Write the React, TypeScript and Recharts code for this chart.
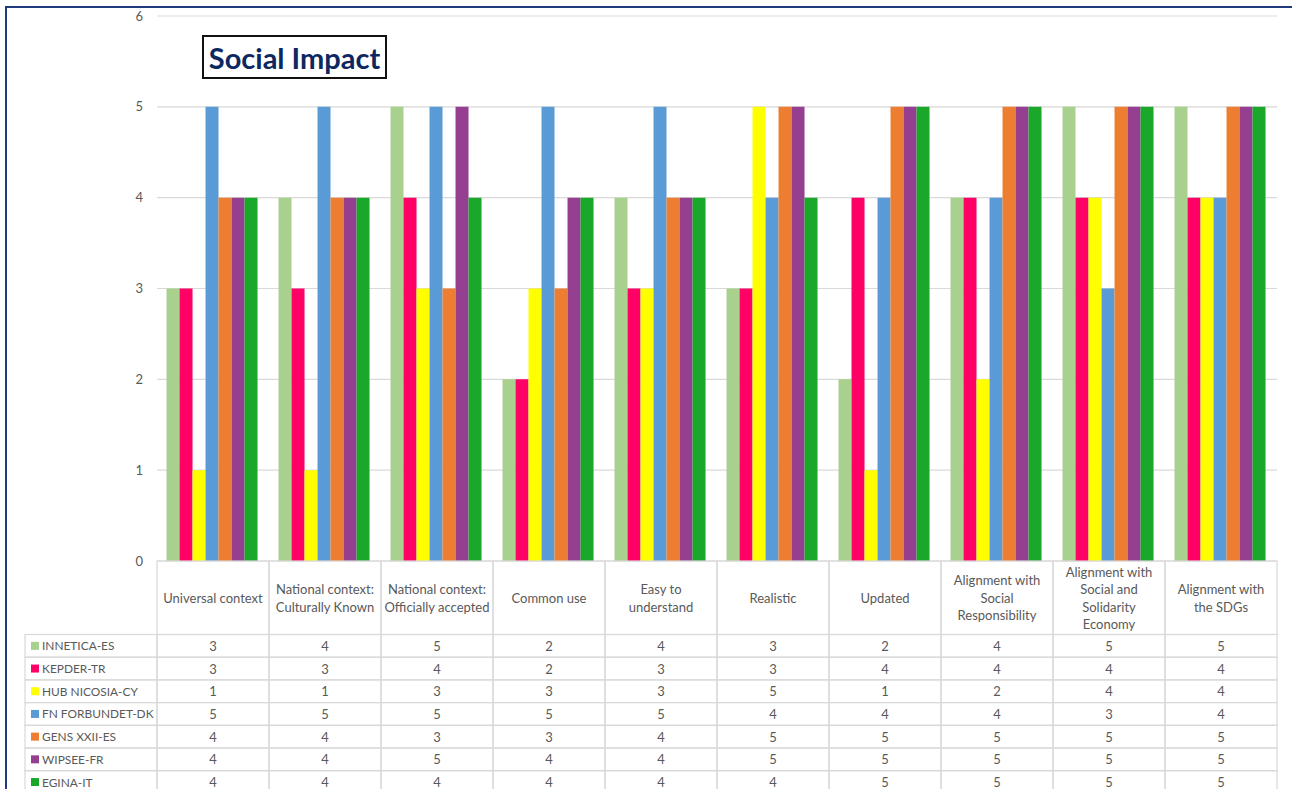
import React from 'react';
import { BarChart, Bar, XAxis, YAxis, CartesianGrid } from 'recharts';

const categories = [
  'Universal context',
  'National context:\nCulturally Known',
  'National context:\nOfficially accepted',
  'Common use',
  'Easy to\nunderstand',
  'Realistic',
  'Updated',
  'Alignment with\nSocial\nResponsibility',
  'Alignment with\nSocial and\nSolidarity\nEconomy',
  'Alignment with\nthe SDGs',
];

const seriesNames = [
  'INNETICA-ES',
  'KEPDER-TR',
  'HUB NICOSIA-CY',
  'FN FORBUNDET-DK',
  'GENS XXII-ES',
  'WIPSEE-FR',
  'EGINA-IT',
];

const seriesColors = ['#a9d18e', '#ff0066', '#ffff00', '#5b9bd5', '#ed7d31', '#953f91', '#1aa82a'];

const innetica = [3, 4, 5, 2, 4, 3, 2, 4, 5, 5];
const kepder = [3, 3, 4, 2, 3, 3, 4, 4, 4, 4];
const hubNicosia = [1, 1, 3, 3, 3, 5, 1, 2, 4, 4];
const fnForbundet = [5, 5, 5, 5, 5, 4, 4, 4, 3, 4];
const gensXXII = [4, 4, 3, 3, 4, 5, 5, 5, 5, 5];
const wipsee = [4, 4, 5, 4, 4, 5, 5, 5, 5, 5];
const egina = [4, 4, 4, 4, 4, 4, 5, 5, 5, 5];

const seriesValues = [innetica, kepder, hubNicosia, fnForbundet, gensXXII, wipsee, egina];

const yTicks = [0, 1, 2, 3, 4, 5, 6];

const data = categories.map((c, i) => {
  const row: Record<string, any> = { category: c };
  seriesNames.forEach((s, k) => {
    row[s] = seriesValues[k][i];
  });
  return row;
});

// layout
const W = 1292;
const H = 789;
const PLOT_LEFT = 157;
const PLOT_RIGHT = 1277;
const PLOT_TOP = 16;
const PLOT_BOTTOM = 561;
const BAND = (PLOT_RIGHT - PLOT_LEFT) / categories.length;
const HEADER_BOTTOM = 634.5;
const ROW_H = 22.7;
const LEGEND_LEFT = 25;
const GRID = '#d9d9d9';
const TEXT = '#595959';
const FONT = 'Lato, "Open Sans", sans-serif';

const ColumnTick = (props: any) => {
  const { x, payload } = props;
  const idx = typeof props.index === 'number' ? props.index : categories.indexOf(payload.value);
  const left = x - BAND / 2;
  const lines = String(payload.value).split('\n');
  const lh = 17.5;
  const cy = (PLOT_BOTTOM + HEADER_BOTTOM) / 2;
  const y0 = cy - ((lines.length - 1) * lh) / 2;
  return (
    <g>
      <rect x={left} y={PLOT_BOTTOM} width={BAND} height={HEADER_BOTTOM - PLOT_BOTTOM} fill="none" stroke={GRID} strokeWidth={1.2} />
      {lines.map((l, j) => (
        <text key={j} x={x} y={y0 + j * lh} textAnchor="middle" dominantBaseline="central" fill={TEXT} fontSize={13} fontFamily={FONT}>
          {l}
        </text>
      ))}
      {seriesValues.map((vals, r) => (
        <g key={r}>
          <rect x={left} y={HEADER_BOTTOM + r * ROW_H} width={BAND} height={ROW_H} fill="none" stroke={GRID} strokeWidth={1.2} />
          <text x={x} y={HEADER_BOTTOM + r * ROW_H + ROW_H / 2} textAnchor="middle" dominantBaseline="central" fill={TEXT} fontSize={13} fontFamily={FONT}>
            {vals[idx]}
          </text>
        </g>
      ))}
    </g>
  );
};

export default function App() {
  return (
    <div style={{ position: 'absolute', left: 0, top: 0, width: W, height: H, overflow: 'hidden', background: '#fff', fontFamily: FONT }}>
      <BarChart
        width={W}
        height={H}
        data={data}
        margin={{ top: PLOT_TOP, right: W - PLOT_RIGHT, left: 0, bottom: 0 }}
        barCategoryGap="8.5%"
        barGap={0}
      >
        <CartesianGrid vertical={false} stroke={GRID} strokeWidth={1.2} />
        <YAxis
          width={PLOT_LEFT}
          domain={[0, 6]}
          ticks={yTicks}
          axisLine={false}
          tickLine={false}
          tickMargin={8}
          tick={{ fill: TEXT, fontSize: 13, fontFamily: FONT }}
        />
        <XAxis
          dataKey="category"
          height={H - PLOT_BOTTOM}
          interval={0}
          axisLine={false}
          tickLine={false}
          tick={<ColumnTick />}
        />
        {seriesNames.map((s, k) => (
          <Bar key={s} dataKey={s} fill={seriesColors[k]} isAnimationActive={false} />
        ))}
      </BarChart>
      <svg style={{ position: 'absolute', left: 0, top: 0 }} width={PLOT_LEFT + 1} height={H}>
        {seriesNames.map((s, r) => {
          const y = HEADER_BOTTOM + r * ROW_H;
          return (
            <g key={s}>
              <rect x={LEGEND_LEFT} y={y} width={PLOT_LEFT - LEGEND_LEFT} height={ROW_H} fill="none" stroke={GRID} strokeWidth={1.2} />
              <rect x={31} y={y + ROW_H / 2 - 4} width={8} height={8} fill={seriesColors[r]} />
              <text x={42} y={y + ROW_H / 2} dominantBaseline="central" fill={TEXT} fontSize={11.9} fontFamily={FONT}>
                {s}
              </text>
            </g>
          );
        })}
      </svg>
      <div
        style={{
          position: 'absolute',
          left: 202,
          top: 35,
          width: 185,
          height: 44,
          boxSizing: 'border-box',
          border: '2px solid #111',
          background: '#fff',
          color: '#0d2860',
          fontFamily: FONT,
          fontWeight: 700,
          fontSize: 29,
          display: 'flex',
          alignItems: 'center',
          justifyContent: 'center',
          whiteSpace: 'nowrap',
        }}
      >
        Social Impact
      </div>
      <div
        style={{
          position: 'absolute',
          left: 5,
          top: 6,
          width: W,
          height: H,
          borderTop: '2px solid #1f3b7c',
          borderLeft: '2px solid #1f3b7c',
          pointerEvents: 'none',
        }}
      />
    </div>
  );
}
